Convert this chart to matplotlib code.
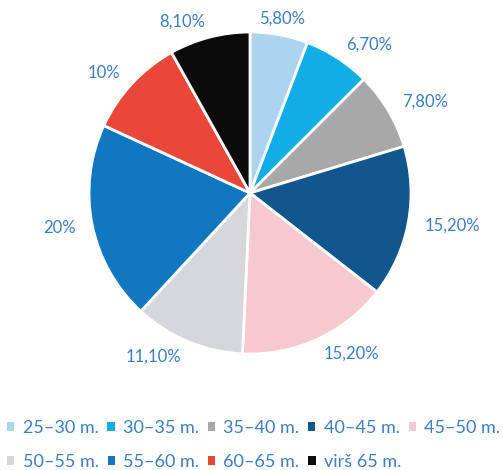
import matplotlib.pyplot as plt
from matplotlib.patches import Patch

# data
categories = ["25–30 m.", "30–35 m.", "35–40 m.", "40–45 m.", "45–50 m.",
              "50–55 m.", "55–60 m.", "60–65 m.", "virš 65 m."]
values = [5.8, 6.7, 7.8, 15.2, 15.2, 11.1, 20, 10, 8.1]
pct_labels = ["5,80%", "6,70%", "7,80%", "15,20%", "15,20%",
              "11,10%", "20%", "10%", "8,10%"]
colors = ["#acd4ee", "#11ade6", "#a8a8a8", "#12568e", "#f6c8cf",
          "#d5d7da", "#0f78c0", "#ea473b", "#0b0b0b"]
txt_color = "#3b7dc6"

plt.rcParams["font.family"] = ["Lato", "DejaVu Sans"]

fig = plt.figure(figsize=(5.03, 4.70), dpi=100)
W, H = 503, 470
cx, cy, r = 250, 193, 161
ax = fig.add_axes([(cx - r) / W, (H - cy - r) / H, 2 * r / W, 2 * r / H])

wedges, texts = ax.pie(values, colors=colors, labels=pct_labels,
                       startangle=90, counterclock=False, labeldistance=1.1,
                       wedgeprops=dict(edgecolor="white", linewidth=2),
                       textprops=dict(color=txt_color, fontsize=12))
texts[0].set_ha("center")
ax.set_xlim(-1, 1)
ax.set_ylim(-1, 1)
ax.set_aspect("equal")

handles = [Patch(facecolor=c, edgecolor="none") for c in colors]

# two legend rows: 5 entries on top, 4 below
kw = dict(frameon=False, handlelength=0.4, handleheight=0.4,
          handletextpad=0.45, columnspacing=0.5, fontsize=13,
          labelcolor=txt_color, borderaxespad=0)
fig.legend(handles[:5], categories[:5], ncol=5, loc="center left",
           bbox_to_anchor=(0.0, 0.089), **kw)
fig.legend(handles[5:], categories[5:], ncol=4, loc="center left",
           bbox_to_anchor=(0.0, 0.017), **kw)

fig.savefig("out.png", dpi=100)
